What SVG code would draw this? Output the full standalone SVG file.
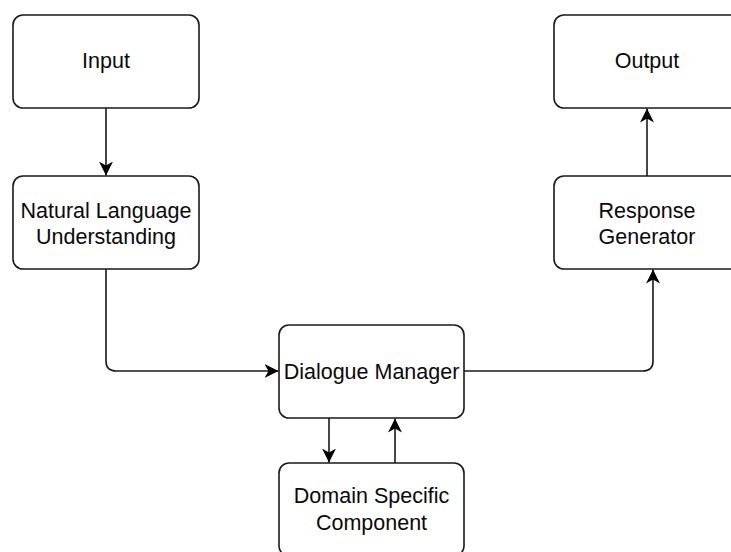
<svg xmlns="http://www.w3.org/2000/svg" width="731" height="552" viewBox="0 0 731 552">
  <style>
    .box { fill: #ffffff; stroke: #1a1a1a; stroke-width: 1.6; }
    .label { font-family: "Liberation Sans", Arial, sans-serif; font-size: 21.5px; fill: #0a0a0a; text-anchor: middle; }
    .edge { fill: none; stroke: #1a1a1a; stroke-width: 1.6; }
  </style>
  <defs>
    <marker id="arrow" markerUnits="userSpaceOnUse" markerWidth="15" markerHeight="15" refX="14" refY="7.5" orient="auto">
      <path d="M0,0.5 L14,7.5 L0,14.5 L4,7.5 Z" fill="#000000"/>
    </marker>
  </defs>
  <rect width="731" height="552" fill="#ffffff"/>

  <!-- connectors -->
  <g id="connectors">
    <path class="edge" d="M106,108 V175.5" marker-end="url(#arrow)"/>
    <path class="edge" d="M106,269 V361 Q106,371 116,371 H278.5" marker-end="url(#arrow)"/>
    <path class="edge" d="M464,371 H643 Q653,371 653,361 V269.5" marker-end="url(#arrow)"/>
    <path class="edge" d="M647,176 V108.5" marker-end="url(#arrow)"/>
    <path class="edge" d="M329,418 V462.5" marker-end="url(#arrow)"/>
    <path class="edge" d="M395,463 V418.5" marker-end="url(#arrow)"/>
  </g>

  <!-- nodes -->
  <g id="input">
    <rect class="box" x="13" y="15" width="186" height="93" rx="10" ry="10"/>
    <text class="label" x="106" y="68">Input</text>
  </g>
  <g id="nlu">
    <rect class="box" x="13" y="176" width="186" height="93" rx="10" ry="10"/>
    <text class="label" x="106" y="217.5">Natural Language</text>
    <text class="label" x="106" y="243.5">Understanding</text>
  </g>
  <g id="output">
    <rect class="box" x="554" y="15" width="186" height="93" rx="10" ry="10"/>
    <text class="label" x="647" y="68">Output</text>
  </g>
  <g id="response-generator">
    <rect class="box" x="554" y="176" width="186" height="93" rx="10" ry="10"/>
    <text class="label" x="647" y="217.5">Response</text>
    <text class="label" x="647" y="243.5">Generator</text>
  </g>
  <g id="dialogue-manager">
    <rect class="box" x="279" y="325" width="185" height="93" rx="10" ry="10"/>
    <text class="label" x="371.5" y="378.5">Dialogue Manager</text>
  </g>
  <g id="domain-specific">
    <rect class="box" x="279" y="463" width="185" height="93" rx="10" ry="10"/>
    <text class="label" x="371.5" y="503">Domain Specific</text>
    <text class="label" x="371.5" y="529.5">Component</text>
  </g>
</svg>
